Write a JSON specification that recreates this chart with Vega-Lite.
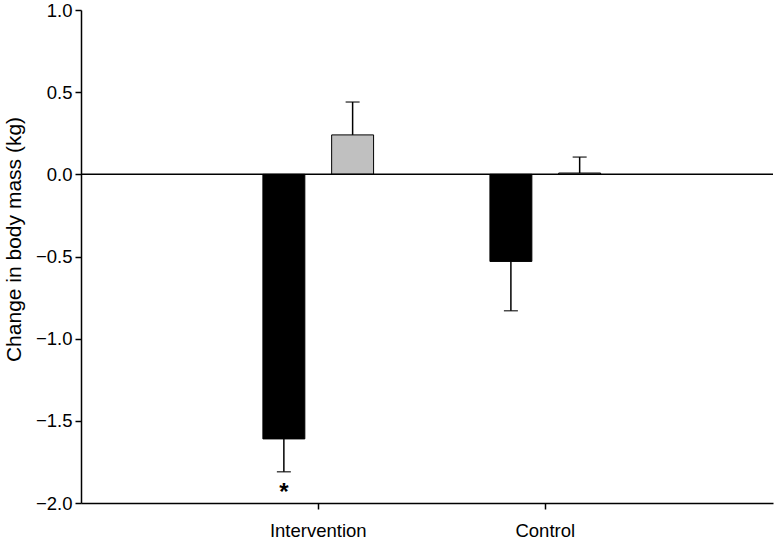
{
  "$schema": "https://vega.github.io/schema/vega-lite/v6.json",
  "width": 692,
  "height": 493,
  "autosize": {"type": "none"},
  "padding": {"left": 81, "top": 10, "right": 4, "bottom": 38},
  "background": "white",
  "config": {
    "view": {"stroke": null},
    "font": "Liberation Sans",
    "axis": {
      "grid": false,
      "domainColor": "black",
      "domainWidth": 1.5,
      "tickColor": "black",
      "tickWidth": 1.5,
      "tickSize": 6,
      "labelFont": "Liberation Sans",
      "labelFontSize": 18.5,
      "labelColor": "black",
      "titleFont": "Liberation Sans",
      "titleFontSize": 21,
      "titleFontWeight": "normal",
      "titleColor": "black"
    }
  },
  "data": {
    "values": [
      {"group": "Intervention", "period": "Phase 1", "value": -1.61, "err": -1.81, "sig": "*"},
      {"group": "Intervention", "period": "Phase 2", "value": 0.24, "err": 0.44, "sig": ""},
      {"group": "Control", "period": "Phase 1", "value": -0.53, "err": -0.83, "sig": ""},
      {"group": "Control", "period": "Phase 2", "value": 0.008, "err": 0.105, "sig": ""}
    ]
  },
  "encoding": {
    "x": {
      "field": "group",
      "type": "nominal",
      "sort": ["Intervention", "Control"],
      "scale": {"paddingInner": 0, "paddingOuter": 0.524, "align": 0.52},
      "axis": {"title": null, "labelAngle": 0, "labelPadding": 12}
    },
    "xOffset": {
      "field": "period",
      "type": "nominal",
      "scale": {"paddingInner": 0.39, "paddingOuter": 0.846}
    }
  },
  "layer": [
    {
      "mark": {"type": "bar", "stroke": "black", "strokeWidth": 1},
      "encoding": {
        "y": {
          "field": "value",
          "type": "quantitative",
          "scale": {"domain": [-2, 1], "nice": false, "zero": false},
          "axis": {
            "values": [-2, -1.5, -1, -0.5, 0, 0.5, 1],
            "format": ".1f",
            "title": "Change in body mass (kg)",
            "labelPadding": 3,
            "titlePadding": 11,
            "titleY": 229
          }
        },
        "color": {
          "field": "period",
          "type": "nominal",
          "scale": {"domain": ["Phase 1", "Phase 2"], "range": ["#000000", "#c0c0c0"]},
          "legend": null
        }
      }
    },
    {
      "mark": {"type": "rule", "color": "black", "strokeWidth": 1.5},
      "encoding": {
        "y": {"field": "value", "type": "quantitative"},
        "y2": {"field": "err"}
      }
    },
    {
      "mark": {"type": "tick", "color": "black", "thickness": 1.5, "size": 14, "orient": "horizontal"},
      "encoding": {
        "y": {"field": "err", "type": "quantitative"}
      }
    },
    {
      "mark": {"type": "text", "fontSize": 24, "fontWeight": "bold", "dy": 21, "baseline": "middle", "color": "black"},
      "encoding": {
        "y": {"field": "err", "type": "quantitative"},
        "text": {"field": "sig"}
      }
    },
    {
      "data": {"values": [{"zero": 0}]},
      "mark": {"type": "rule", "color": "black", "strokeWidth": 1.5},
      "encoding": {
        "y": {"field": "zero", "type": "quantitative"},
        "x": null,
        "xOffset": null
      }
    }
  ]
}
